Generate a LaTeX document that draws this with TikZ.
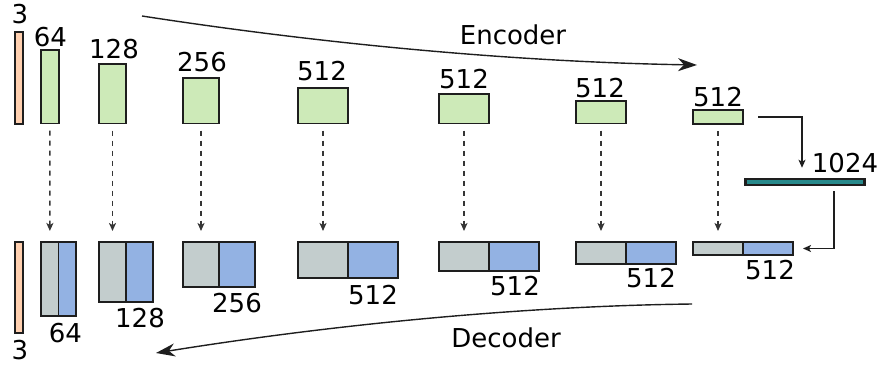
\documentclass[tikz,border=0pt]{standalone}
\usepackage{fontspec}
\setmainfont{DejaVu Sans}
\usetikzlibrary{arrows.meta}
\definecolor{inorange}{HTML}{FFD0B0}
\definecolor{encgreen}{HTML}{CDEAB8}
\definecolor{skipgray}{HTML}{C3CDCD}
\definecolor{upblue}{HTML}{93B2E3}
\definecolor{teal2}{HTML}{27898B}
\definecolor{ink}{HTML}{1E1E1E}
\tikzset{
  box/.style={draw=ink, line width=1.5pt, inner sep=0pt, outer sep=0pt, rectangle},
  inbox/.style={box, fill=inorange, minimum width=8pt},
  encbox/.style={box, fill=encgreen, anchor=south},
  grbox/.style={box, fill=skipgray, anchor=north east},
  blbox/.style={box, fill=upblue, anchor=north west},
  lbl/.style={inner sep=0pt, font=\fontsize{26}{26}\selectfont},
  skipline/.style={draw=ink!90, line width=1.5pt, dash pattern=on 5pt off 5pt,
    -{Stealth[length=8pt,width=7pt,inset=2pt]}, shorten <=7pt, shorten >=11pt},
  smallarrow/.style={draw=ink, line width=1.4pt, -{Stealth[length=8pt,width=7pt,inset=2pt]}},
  bigarrow/.style={draw=ink, line width=1.4pt, -{Stealth[length=19pt,width=13pt,inset=6pt]}}
}
\begin{document}
\begin{tikzpicture}[x=1pt,y=-1pt]
\useasboundingbox (0,0) rectangle (882,367);
% encoder boxes
\node[inbox, anchor=south, minimum height=92pt] (e0) at (19,124) {};
\node[encbox, minimum width=17.7pt, minimum height=73.5pt] (e1) at (50,123.5) {};
\node[encbox, minimum width=27pt, minimum height=59.5pt] (e2) at (112.5,123.5) {};
\node[encbox, minimum width=36pt, minimum height=45.5pt] (e3) at (201,123.5) {};
\node[encbox, minimum width=50pt, minimum height=35.5pt] (e4) at (323,123.5) {};
\node[encbox, minimum width=50pt, minimum height=29.5pt] (e5) at (464,123.5) {};
\node[encbox, minimum width=50pt, minimum height=22.5pt] (e6) at (601,123.5) {};
\node[encbox, minimum width=50pt, minimum height=14pt] (e7) at (718,124) {};
% encoder labels
\node[lbl] (le0) at (20,14) {3};
\node[lbl] (le1) at (50.5,37) {64};
\node[lbl] (le2) at (114,49) {128};
\node[lbl] (le3) at (202,62.5) {256};
\node[lbl] (le4) at (322,71) {512};
\node[lbl] (le5) at (464,79) {512};
\node[lbl] (le6) at (600,88) {512};
\node[lbl] (le7) at (718,97) {512};
% bottleneck
\node[box, fill=teal2, line width=2.2pt, minimum width=119pt, minimum height=6.5pt] (bn) at (805,182) {};
\node[lbl] (lbn) at (845,163) {1024};
% decoder boxes
\node[inbox, anchor=north, minimum height=91pt] (d0) at (19,242) {};
\node[grbox, minimum width=17.7pt, minimum height=74pt] (g1) at (58.7,242) {};
\node[blbox, minimum width=17.3pt, minimum height=74pt] (b1) at (58.7,242) {};
\node[grbox, minimum width=27pt, minimum height=60pt] (g2) at (126,242) {};
\node[blbox, minimum width=27pt, minimum height=60pt] (b2) at (126,242) {};
\node[grbox, minimum width=36pt, minimum height=45pt] (g3) at (219,242) {};
\node[blbox, minimum width=36pt, minimum height=45pt] (b3) at (219,242) {};
\node[grbox, minimum width=50pt, minimum height=36pt] (g4) at (348,242) {};
\node[blbox, minimum width=50pt, minimum height=36pt] (b4) at (348,242) {};
\node[grbox, minimum width=50pt, minimum height=29pt] (g5) at (489,242) {};
\node[blbox, minimum width=50pt, minimum height=29pt] (b5) at (489,242) {};
\node[grbox, minimum width=50pt, minimum height=22pt] (g6) at (626,242) {};
\node[blbox, minimum width=50pt, minimum height=22pt] (b6) at (626,242) {};
\node[grbox, minimum width=50pt, minimum height=13pt] (g7) at (743,242) {};
\node[blbox, minimum width=50pt, minimum height=13pt] (b7) at (743,242) {};
% decoder labels
\node[lbl] (ld0) at (20,350) {3};
\node[lbl] (ld1) at (65.5,333) {64};
\node[lbl] (ld2) at (140,318) {128};
\node[lbl] (ld3) at (237,303) {256};
\node[lbl] (ld4) at (373,295) {512};
\node[lbl] (ld5) at (515,286) {512};
\node[lbl] (ld6) at (651,278) {512};
\node[lbl] (ld7) at (770,270) {512};
% skip connections
\draw[skipline] (e1.south) -- (g1.north);
\draw[skipline] (e2.south) -- (g2.north);
\draw[skipline] (e3.south) -- (g3.north);
\draw[skipline] (e4.south) -- (g4.north);
\draw[skipline] (e5.south) -- (g5.north);
\draw[skipline] (e6.south) -- (g6.north);
\draw[skipline] (e7.south) -- (g7.north);
% bottleneck arrows
\draw[smallarrow, shorten <=15pt, shorten >=11pt] (e7.east) -| ([xshift=-3pt]bn.north);
\draw[smallarrow, shorten <=6pt, shorten >=10pt] ([xshift=29pt]bn.south) |- (b7.east);
% encoder / decoder arrows
\coordinate (encS) at (142,16);
\coordinate (encE) at (697,65);
\coordinate (decS) at (692,304);
\coordinate (decE) at (156,353);
\draw[bigarrow] (encS) .. controls (330,45) and (520,62) .. (encE);
\draw[bigarrow] (decS) .. controls (520,306) and (330,325) .. (decE);
\node[lbl] (lenc) at (513,35) {Encoder};
\node[lbl] (ldec) at (506,338) {Decoder};
\end{tikzpicture}
\end{document}
